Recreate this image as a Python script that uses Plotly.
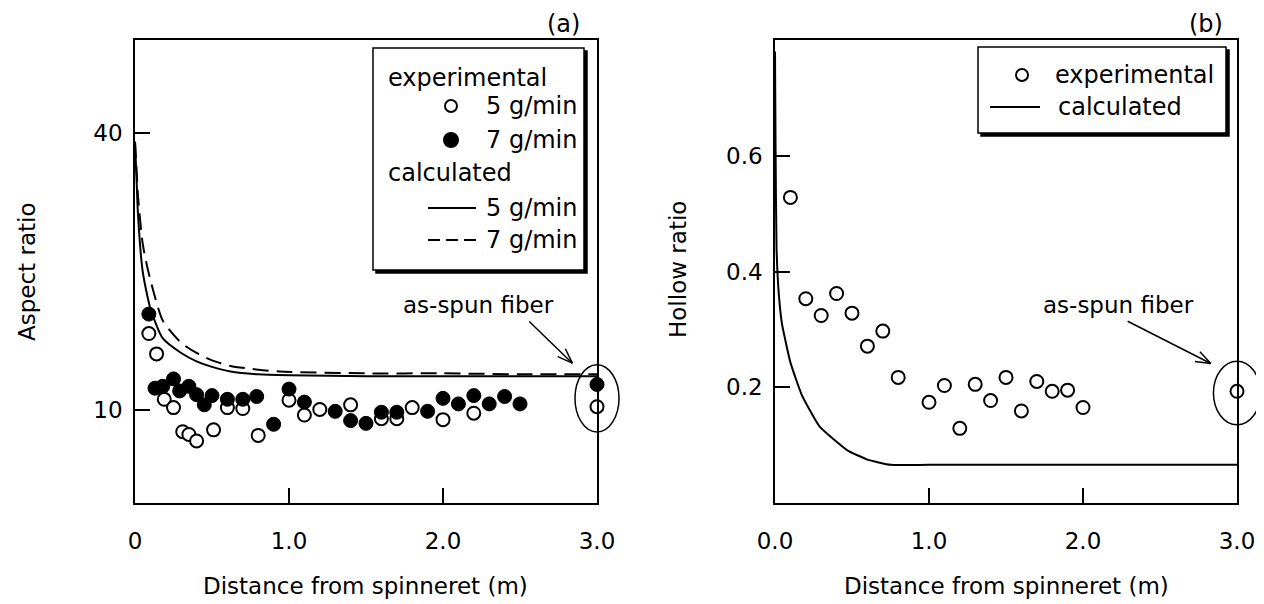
import plotly.graph_objects as go
import math

# page body has an 8px margin: design in screen px, convert to figure coords
OFF = 8
W, H = 1256, 596
SPT, SPB = 40, 503        # plot area top / bottom in screen px
FONT = "DejaVu Sans"

# ---------------- data: panel (a) aspect ratio ----------------
a_open_x = [0.09, 0.14, 0.19, 0.25, 0.31, 0.35, 0.40, 0.51, 0.60, 0.70, 0.80, 1.0, 1.1, 1.2, 1.4, 1.6, 1.7, 1.8, 2.0, 2.2]
a_open_y = [18.3, 16.1, 11.2, 10.3, 7.7, 7.4, 6.7, 7.9, 10.3, 10.2, 7.3, 11.1, 9.5, 10.1, 10.6, 9.1, 9.1, 10.3, 9.0, 9.7]
a_fill_x = [0.09, 0.13, 0.18, 0.25, 0.29, 0.35, 0.40, 0.45, 0.50, 0.60, 0.70, 0.79, 0.90, 1.0, 1.1, 1.3, 1.4,
            1.5, 1.6, 1.7, 1.9, 2.0, 2.1, 2.2, 2.3, 2.4, 2.5]
a_fill_y = [20.4, 12.4, 12.6, 13.4, 12.1, 12.6, 11.7, 10.6, 11.6, 11.2, 11.2, 11.5, 8.5, 12.3, 10.9, 9.9, 8.9,
            8.6, 9.8, 9.8, 9.9, 11.3, 10.7, 11.6, 10.7, 11.5, 10.7]
a_spun_x = [3.0]
a_spun_open_y = [10.4]
a_spun_fill_y = [12.8]
a_calc5_x = [0, 0.01, 0.02, 0.05, 0.1, 0.18, 0.3, 0.4, 0.5, 0.62, 0.8, 1.0, 1.5, 2.0, 2.5, 3.0]
a_calc5_y = [39, 35, 31, 25, 21, 17.8, 16.2, 15.3, 14.7, 14.2, 13.9, 13.8, 13.7, 13.7, 13.7, 13.7]
a_calc7_x = [0, 0.01, 0.02, 0.05, 0.085, 0.18, 0.3, 0.4, 0.5, 0.62, 0.8, 0.94, 1.5, 2.0, 2.5, 3.0]
a_calc7_y = [39, 36, 33, 28, 25.1, 19.7, 17.3, 16.2, 15.4, 14.8, 14.4, 14.2, 14.0, 14.0, 13.9, 13.9]

# ---------------- data: panel (b) hollow ratio ----------------
b_exp_x = [0.1, 0.2, 0.3, 0.4, 0.5, 0.6, 0.7, 0.8, 1.0, 1.1, 1.2, 1.3, 1.4, 1.5, 1.6, 1.7, 1.8, 1.9, 2.0]
b_exp_y = [0.528, 0.353, 0.324, 0.362, 0.328, 0.271, 0.297, 0.217, 0.174, 0.203, 0.129, 0.205, 0.177, 0.217,
           0.159, 0.210, 0.193, 0.195, 0.165]
b_spun_x = [3.0]
b_spun_y = [0.193]
b_calc_x = [0, 0.004, 0.01, 0.025, 0.045, 0.1, 0.175, 0.29, 0.47, 0.6, 0.75, 1.0, 2.0, 3.0]
b_calc_y = [0.78, 0.6, 0.44, 0.36, 0.31, 0.243, 0.186, 0.132, 0.091, 0.075, 0.066, 0.066, 0.066, 0.066]

# tick labels
a_xticks = ["0", "1.0", "2.0", "3.0"]
b_xticks = ["0.0", "1.0", "2.0", "3.0"]
a_yticks = ["10", "40"]
b_yticks = ["0.2", "0.4", "0.6"]

SX = {"a": (135, 597), "b": (775, 1237)}   # screen px of x = 0 and x = 3
XR = (0, 3)
YR = {"a": (0, 50), "b": (0, 0.8)}


def dom(p):
    return [(SX[p][0] - OFF) / W, (SX[p][1] - OFF) / W]


def d2px(p, x, y):
    s0, s1 = SX[p]
    px = s0 + (x - XR[0]) / (XR[1] - XR[0]) * (s1 - s0)
    py = SPB - (y - YR[p][0]) / (YR[p][1] - YR[p][0]) * (SPB - SPT)
    return px, py


def pp(px, py):
    return (px - OFF) / W, (SPB - py) / (SPB - SPT)


fig = go.Figure()
blk = "black"

# panel a traces
fig.add_trace(go.Scatter(x=a_calc5_x, y=a_calc5_y, mode="lines",
                         line=dict(color=blk, width=2, shape="spline", smoothing=0.6), xaxis="x", yaxis="y"))
fig.add_trace(go.Scatter(x=a_calc7_x, y=a_calc7_y, mode="lines",
                         line=dict(color=blk, width=2, dash="16px,8px", shape="spline", smoothing=0.6),
                         xaxis="x", yaxis="y"))
fig.add_trace(go.Scatter(x=a_open_x + a_spun_x, y=a_open_y + a_spun_open_y, mode="markers", cliponaxis=False,
                         marker=dict(size=13, color="white", line=dict(color=blk, width=2)), xaxis="x", yaxis="y"))
fig.add_trace(go.Scatter(x=a_fill_x + a_spun_x, y=a_fill_y + a_spun_fill_y, mode="markers", cliponaxis=False,
                         marker=dict(size=14, color=blk, line=dict(color=blk, width=1)), xaxis="x", yaxis="y"))

# panel b traces
fig.add_trace(go.Scatter(x=b_calc_x, y=b_calc_y, mode="lines",
                         line=dict(color=blk, width=2, shape="spline", smoothing=0.4), xaxis="x2", yaxis="y2"))
fig.add_trace(go.Scatter(x=b_exp_x + b_spun_x, y=b_exp_y + b_spun_y, mode="markers", cliponaxis=False,
                         marker=dict(size=13, color="white", line=dict(color=blk, width=2)), xaxis="x2", yaxis="y2"))

shapes = []
annotations = []


def ellipse(p, cx, cy, hx, hy):
    x0, y0 = pp(*d2px(p, cx - hx, cy + hy))
    x1, y1 = pp(*d2px(p, cx + hx, cy - hy))
    shapes.append(dict(type="circle", xref="paper", yref="paper", x0=x0, y0=y0, x1=x1, y1=y1,
                       line=dict(color=blk, width=1.5)))


def arrow(p, tx, ty, hx, hy, text, lx, ly):
    x0, y0 = d2px(p, tx, ty)
    x1, y1 = d2px(p, hx, hy)
    shapes.append(dict(type="line", xref="paper", yref="paper", x0=pp(x0, y0)[0], y0=pp(x0, y0)[1],
                       x1=pp(x1, y1)[0], y1=pp(x1, y1)[1], line=dict(color=blk, width=1.5)))
    ang = math.atan2(y1 - y0, x1 - x0)
    L = 16
    for s in (-1, 1):
        a2 = ang + math.pi + s * math.radians(20)
        ex, ey = x1 + L * math.cos(a2), y1 + L * math.sin(a2)
        shapes.append(dict(type="line", xref="paper", yref="paper", x0=pp(x1, y1)[0], y0=pp(x1, y1)[1],
                           x1=pp(ex, ey)[0], y1=pp(ex, ey)[1], line=dict(color=blk, width=1.5)))
    lpx, lpy = d2px(p, lx, ly)
    X, Y = pp(lpx, lpy)
    annotations.append(dict(xref="paper", yref="paper", x=X, y=Y, text=text, showarrow=False,
                            font=dict(family=FONT, size=23, color=blk), xanchor="center", yanchor="middle"))


ellipse("a", 3.0, 11.3, 0.143, 3.64)
ellipse("b", 3.0, 0.19, 0.153, 0.055)
arrow("a", 2.56, 19.6, 2.84, 15.1, "as-spun fiber", 2.23, 21.4)
arrow("b", 2.29, 0.314, 2.83, 0.241, "as-spun fiber", 2.23, 0.342)


def text_px(px, py, s, size=23, xanchor="left", angle=0, yanchor="middle"):
    X, Y = pp(px, py)
    annotations.append(dict(xref="paper", yref="paper", x=X, y=Y, text=s, showarrow=False, textangle=angle,
                            font=dict(family=FONT, size=size, color=blk), xanchor=xanchor, yanchor=yanchor))


def rect_px(x0, y0, x1, y1, fill="white", lw=1.5):
    a0, b0 = pp(x0, y0)
    a1, b1 = pp(x1, y1)
    shapes.append(dict(type="rect", xref="paper", yref="paper", x0=a0, y0=b0, x1=a1, y1=b1,
                       fillcolor=fill, line=dict(color=blk, width=lw)))


def circ_px(cx, cy, r, fill):
    a0, b0 = pp(cx - r, cy - r)
    a1, b1 = pp(cx + r, cy + r)
    shapes.append(dict(type="circle", xref="paper", yref="paper", x0=a0, y0=b0, x1=a1, y1=b1,
                       fillcolor=fill, line=dict(color=blk, width=2)))


def line_px(x0, y0, x1, y1, dash="solid"):
    a0, b0 = pp(x0, y0)
    a1, b1 = pp(x1, y1)
    shapes.append(dict(type="line", xref="paper", yref="paper", x0=a0, y0=b0, x1=a1, y1=b1,
                       line=dict(color=blk, width=2, dash=dash)))


# legend (a)
rect_px(376, 51, 587, 273, fill=blk)
rect_px(373, 48, 584, 270)
text_px(386, 78, "experimental", size=24)
circ_px(451, 106, 6, "white")
text_px(484, 106, "5 g/min", size=24)
circ_px(451, 140, 7, blk)
text_px(484, 140, "7 g/min", size=24)
text_px(386, 173, "calculated", size=24)
line_px(428, 208, 476, 208)
text_px(484, 208, "5 g/min", size=24)
line_px(428, 240, 476, 240, dash="12px,6px")
text_px(484, 240, "7 g/min", size=24)

# legend (b)
rect_px(981, 50, 1229, 136, fill=blk)
rect_px(978, 47, 1226, 133)
circ_px(1022, 75, 6, "white")
text_px(1053, 75, "experimental", size=24)
line_px(990, 107, 1040, 107)
text_px(1056, 107, "calculated", size=24)

# panel labels and axis titles
text_px(563, 8, "(a)", size=24, xanchor="center", yanchor="top")
text_px(1206, 8, "(b)", size=24, xanchor="center", yanchor="top")
text_px(27, 272, "Aspect ratio", xanchor="center", angle=-90)
text_px(678, 270, "Hollow ratio", xanchor="center", angle=-90)
text_px(365, 586, "Distance from spinneret (m)", xanchor="center")
text_px(1006, 586, "Distance from spinneret (m)", xanchor="center")

ax_common = dict(showline=True, mirror=True, linecolor=blk, linewidth=1.5, ticks="inside", tickcolor=blk,
                 tickwidth=1.5, showgrid=False, zeroline=False, automargin=False, ticklen=15,
                 tickfont=dict(family=FONT, size=23, color=blk))

fig.update_layout(
    template="none",
    width=W, height=H,
    margin=dict(l=0, r=0, t=SPT - OFF, b=H - (SPB - OFF), pad=0, autoexpand=False),
    paper_bgcolor="white", plot_bgcolor="white",
    showlegend=False,
    xaxis=dict(domain=dom("a"), range=list(XR), tickvals=[0, 1, 2, 3], ticktext=a_xticks,
               anchor="y", ticklabelstandoff=17, **ax_common),
    yaxis=dict(domain=[0, 1], range=list(YR["a"]), tickvals=[10, 40], ticktext=a_yticks,
               anchor="x", ticklabelstandoff=6, **ax_common),
    xaxis2=dict(domain=dom("b"), range=list(XR), tickvals=[0, 1, 2, 3], ticktext=b_xticks,
                anchor="y2", ticklabelstandoff=17, **ax_common),
    yaxis2=dict(domain=[0, 1], range=list(YR["b"]), tickvals=[0.2, 0.4, 0.6], ticktext=b_yticks,
                anchor="x2", ticklabelstandoff=6, **ax_common),
    shapes=shapes,
    annotations=annotations,
)

fig.write_html("out.html")
